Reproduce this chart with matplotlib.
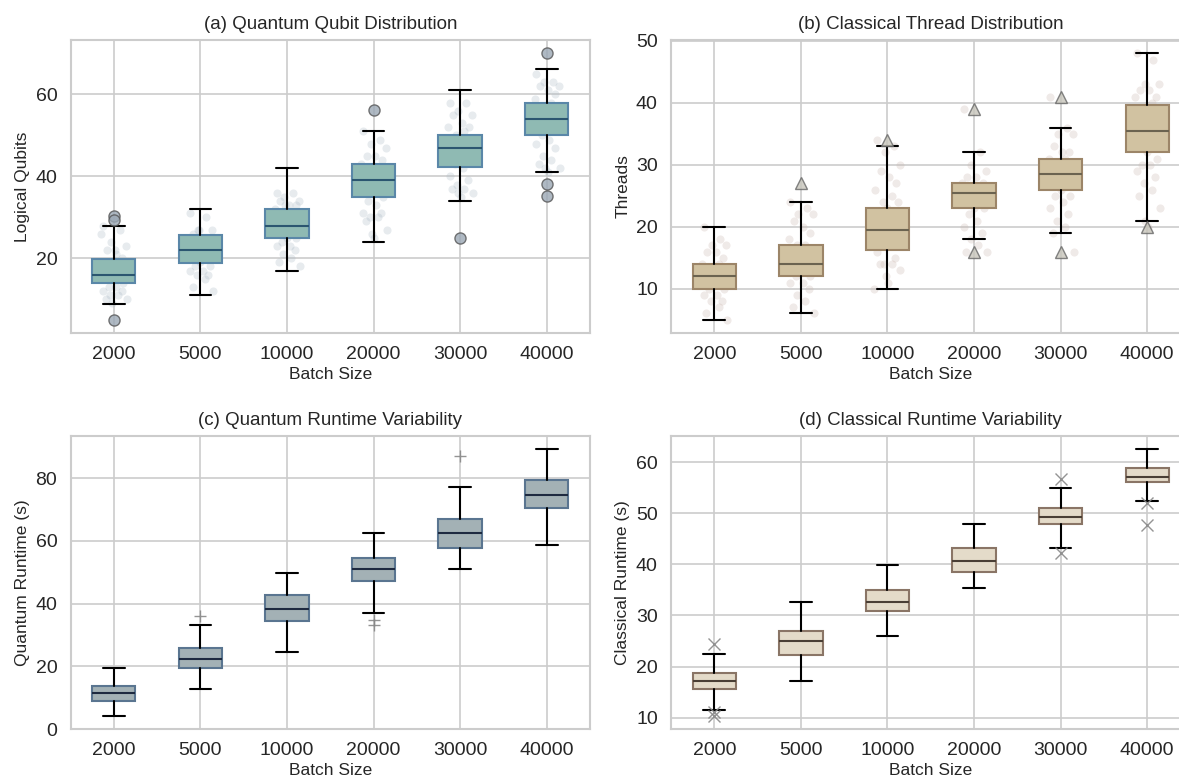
import matplotlib
matplotlib.use("Agg")
import matplotlib.pyplot as plt
import seaborn as sns

batch_sizes = ["2000", "5000", "10000", "20000", "30000", "40000"]

# (a) quantum qubits: q1, median, q3, lower whisker, upper whisker, outliers
qubit_q1 = [13.9, 18.9, 25.0, 35.0, 42.2, 50.1]
qubit_med = [15.9, 22.0, 28.0, 39.0, 47.0, 54.1]
qubit_q3 = [19.8, 25.7, 32.0, 43.0, 50.1, 57.8]
qubit_lo = [8.9, 11.0, 17.0, 24.0, 34.0, 41.0]
qubit_hi = [28.0, 32.0, 42.0, 51.0, 61.1, 66.1]
qubit_out = [[30.3, 29.3, 4.9], [], [], [56.1], [25.0], [70.1, 38.1, 35.1]]
qubit_pts = [
    [28, 27, 24, 23, 22, 21, 20, 19, 18, 17, 17, 16, 16, 15, 15, 14, 13, 13, 12, 12, 11, 11, 10, 10, 9, 22, 26],
    [31, 30, 27, 27, 26, 25, 25, 24, 23, 22, 22, 21, 20, 20, 19, 18, 18, 17, 17, 16, 16, 15, 13, 12, 27],
    [36, 36, 35, 34, 34, 33, 33, 32, 31, 30, 29, 28, 27, 26, 25, 25, 24, 23, 23, 22, 21, 20, 19, 18, 33],
    [51, 49, 48, 47, 45, 45, 44, 43, 42, 41, 40, 39, 38, 37, 36, 35, 34, 33, 31, 31, 30, 30, 29, 27, 26, 25],
    [58, 58, 56, 55, 55, 53, 52, 52, 51, 50, 49, 48, 47, 46, 45, 44, 43, 42, 40, 39, 38, 37, 37, 36, 36, 35],
    [65, 63, 63, 62, 62, 61, 60, 59, 58, 57, 56, 55, 54, 53, 52, 51, 50, 49, 48, 47, 45, 44, 43, 42, 42, 41],
]

# (b) classical threads
thread_q1 = [10.0, 12.0, 16.2, 23.0, 26.0, 32.0]
thread_med = [12.0, 14.0, 19.5, 25.5, 28.5, 35.5]
thread_q3 = [14.0, 17.0, 23.0, 27.0, 31.0, 39.7]
thread_lo = [5.0, 6.0, 10.0, 18.0, 19.0, 21.0]
thread_hi = [20.0, 24.0, 33.0, 32.0, 36.0, 48.0]
thread_out = [[], [27.0], [34.0], [39.0, 15.9], [41.0, 15.9], [20.0]]
thread_pts = [
    [20, 18, 17, 17, 16, 16, 15, 14, 14, 13, 13, 12, 12, 11, 11, 10, 10, 9, 9, 8, 8, 7, 6, 5],
    [24, 23, 22, 22, 21, 20, 19, 18, 17, 17, 16, 15, 14, 14, 13, 12, 12, 11, 11, 10, 9, 8, 7, 6],
    [34, 33, 32, 30, 29, 28, 27, 26, 25, 24, 24, 23, 22, 21, 20, 19, 18, 17, 16, 15, 14, 14, 14, 13, 12, 11, 10],
    [39, 32, 30, 29, 28, 28, 27, 27, 26, 26, 25, 25, 24, 24, 23, 23, 22, 21, 20, 19, 18, 17, 16, 16],
    [41, 36, 35, 35, 33, 32, 32, 31, 31, 30, 29, 28, 28, 27, 26, 25, 25, 24, 23, 22, 21, 20, 19, 16],
    [48, 47, 43, 43, 42, 42, 41, 41, 40, 39, 37, 36, 34, 33, 32, 31, 30, 30, 29, 28, 27, 26, 25, 23, 21, 20],
]

# (c) quantum runtime (s)
qrt_q1 = [9.0, 19.4, 34.5, 47.1, 57.7, 70.5]
qrt_med = [11.5, 22.4, 38.1, 51.1, 62.6, 74.7]
qrt_q3 = [13.8, 25.7, 42.6, 54.4, 66.8, 79.5]
qrt_lo = [4.0, 12.6, 24.6, 37.1, 51.0, 58.5]
qrt_hi = [19.6, 33.2, 49.8, 62.4, 77.3, 89.3]
qrt_out = [[], [36.0], [], [34.8, 33.2], [86.9], []]

# (d) classical runtime (s)
crt_q1 = [15.7, 22.3, 30.8, 38.5, 47.8, 56.1]
crt_med = [17.2, 25.0, 32.7, 40.7, 49.3, 57.1]
crt_q3 = [18.8, 26.9, 35.0, 43.2, 51.1, 58.8]
crt_lo = [11.6, 17.2, 26.0, 35.3, 43.2, 52.4]
crt_hi = [22.5, 32.6, 39.8, 47.9, 55.0, 62.6]
crt_out = [[24.4, 11.2, 10.4], [], [], [], [56.7, 42.3], [51.9, 47.6]]

jitter = [-0.12, 0.07, -0.03, 0.14, -0.08, 0.02, 0.10, -0.14, 0.05, -0.05,
          0.12, -0.01, 0.08, -0.10, 0.00, 0.11, -0.06, 0.03, -0.12, 0.09,
          -0.04, 0.05, -0.09, 0.15, -0.02, 0.01, -0.15]

sns.set_theme(style="whitegrid")
plt.rcParams["font.family"] = ["Liberation Sans", "DejaVu Sans"]


def make_stats(q1, med, q3, lo, hi, out):
    stats = []
    for i in range(len(q1)):
        stats.append({"q1": q1[i], "med": med[i], "q3": q3[i],
                      "whislo": lo[i], "whishi": hi[i], "fliers": out[i]})
    return stats


def draw_panel(ax, stats, face, edge, medc, flier, title, ylabel, pts=None, ptcolor=None):
    if pts is not None:
        for i, vals in enumerate(pts):
            xs = [i + jitter[k % len(jitter)] for k in range(len(vals))]
            ax.scatter(xs, vals, s=34, color=ptcolor, alpha=0.28, linewidths=0, zorder=1)
    ax.bxp(stats, positions=range(len(stats)), widths=0.5, patch_artist=True,
           boxprops=dict(facecolor=face, edgecolor=edge, linewidth=1.5),
           medianprops=dict(color=medc, linewidth=1.5),
           whiskerprops=dict(color="black", linewidth=1.5),
           capprops=dict(color="black", linewidth=1.5),
           capwidths=0.25, flierprops=flier, zorder=2)
    ax.set_xticks(range(len(batch_sizes)))
    ax.set_xticklabels(batch_sizes)
    ax.set_xlim(-0.5, 5.5)
    ax.set_title(title, fontsize=13.5, color="#262626", pad=8)
    ax.set_xlabel("Batch Size", fontsize=12.5, color="#262626", labelpad=3)
    ax.set_ylabel(ylabel, fontsize=12.5, color="#262626")
    ax.tick_params(axis="both", labelsize=14, colors="#262626")
    ax.grid(True, color="#cccccc", linewidth=1.2)
    for sp in ax.spines.values():
        sp.set_color("#cccccc")
        sp.set_linewidth(1.5)


fig = plt.figure(figsize=(11.79, 7.84), dpi=100)
W = 1179.0
H = 784.0
ax_a = fig.add_axes([70.5 / W, (H - 333) / H, 519.5 / W, 293 / H])
ax_b = fig.add_axes([671 / W, (H - 333) / H, 519.5 / W, 293 / H])
ax_c = fig.add_axes([70.5 / W, (H - 729) / H, 519.5 / W, 293 / H])
ax_d = fig.add_axes([671 / W, (H - 729) / H, 519.5 / W, 293 / H])

draw_panel(ax_a, make_stats(qubit_q1, qubit_med, qubit_q3, qubit_lo, qubit_hi, qubit_out),
           "#8fbab3", "#5a87a8", "#2b5670",
           dict(marker="o", markersize=8, markerfacecolor="#9ba8b5",
                markeredgecolor="#555555", alpha=0.8),
           "(a) Quantum Qubit Distribution", "Logical Qubits",
           pts=qubit_pts, ptcolor="#a9b8c4")
ax_a.set_ylim(1.75, 73.3)
ax_a.set_yticks([20, 40, 60])

draw_panel(ax_b, make_stats(thread_q1, thread_med, thread_q3, thread_lo, thread_hi, thread_out),
           "#d1c2a1", "#9c8568", "#6b6350",
           dict(marker="^", markersize=8, markerfacecolor="#c7c5bb",
                markeredgecolor="#666666", alpha=0.8),
           "(b) Classical Thread Distribution", "Threads",
           pts=thread_pts, ptcolor="#c9b5ad")
ax_b.set_ylim(2.85, 50.15)
ax_b.set_yticks([10, 20, 30, 40, 50])

draw_panel(ax_c, make_stats(qrt_q1, qrt_med, qrt_q3, qrt_lo, qrt_hi, qrt_out),
           "#a3b1b5", "#5a7590", "#1e2a40",
           dict(marker="+", markersize=8, markeredgecolor="#888888", alpha=0.9),
           "(c) Quantum Runtime Variability", "Quantum Runtime (s)")
ax_c.set_ylim(0, 93.4)
ax_c.set_yticks([0, 20, 40, 60, 80])

draw_panel(ax_d, make_stats(crt_q1, crt_med, crt_q3, crt_lo, crt_hi, crt_out),
           "#e4dbc9", "#8a7566", "#4a3f35",
           dict(marker="x", markersize=8, markeredgecolor="#888888", alpha=0.9),
           "(d) Classical Runtime Variability", "Classical Runtime (s)")
ax_d.set_ylim(7.8, 65.1)
ax_d.set_yticks([10, 20, 30, 40, 50, 60])

fig.savefig("out.png", dpi=100)
